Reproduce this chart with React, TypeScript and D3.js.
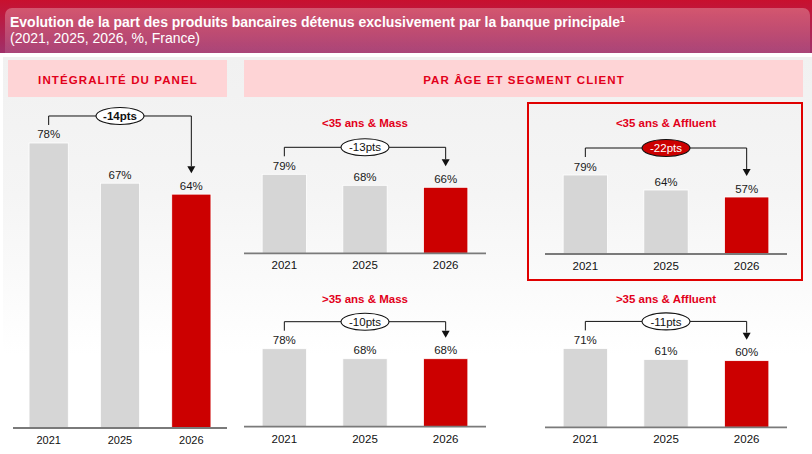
import * as React from "react";
import * as d3 from "d3";

const years = ["2021", "2025", "2026"];
const panelValues = [78, 67, 64];
const youngMassValues = [79, 68, 66];
const youngAffluentValues = [79, 64, 57];
const seniorMassValues = [78, 68, 68];
const seniorAffluentValues = [71, 61, 60];

const titleText = "Evolution de la part des produits bancaires détenus exclusivement par la banque principale";
const subtitleText = "(2021, 2025, 2026, %, France)";
const sectionLabels = ["INTÉGRALITÉ DU PANEL", "PAR ÂGE ET SEGMENT CLIENT"];
const segmentLabels = ["<35 ans & Mass", "<35 ans & Affluent", ">35 ans & Mass", ">35 ans & Affluent"];

const FONT = "'Liberation Sans', Arial, sans-serif";
const RED = "#cc0000";
const TITLE_RED = "#e2001a";
const GREY_BAR = "#d6d6d6";

type BlockProps = {
  values: number[];
  x0: number;
  x1: number;
  base: number;
  height: number;
  yMax: number;
  bold?: boolean;
  filledBadge?: boolean;
  title?: string;
  titleY?: number;
  yearSize?: number;
};

function BarBlock(p: BlockProps) {
  const x = d3.scalePoint<string>().domain(years).range([p.x0, p.x1]).padding(0.5);
  const y = d3.scaleLinear().domain([0, p.yMax]).range([p.base, p.base - p.height]);
  const bw = x.step() * 0.55;

  const first = p.values[0];
  const last = p.values[p.values.length - 1];
  const delta = last - first;
  const topY = y(d3.max(p.values) as number);
  const lineY = topY - 27;
  const startY = topY - 18;
  const tipY = y(last) - 21;
  const xa = x(years[0]) as number;
  const xb = x(years[years.length - 1]) as number;
  const xm = x(years[1]) as number;

  return (
    <g>
      {p.title && (
        <text x={(p.x0 + p.x1) / 2} y={p.titleY} textAnchor="middle" fontSize={11.5}
          fontWeight="bold" fill={TITLE_RED}>{p.title}</text>
      )}
      {p.values.map((v, i) => (
        <rect key={years[i]} x={(x(years[i]) as number) - bw / 2} y={y(v)} width={bw}
          height={p.base - y(v)} fill={i === p.values.length - 1 ? RED : GREY_BAR}
          stroke="#ffffff" strokeWidth={0.8} />
      ))}
      {p.values.map((v, i) => (
        <text key={"v" + years[i]} x={x(years[i])} y={y(v) - 4.5} textAnchor="middle"
          fontSize={11.5} fill="#1a1a1a">{v + "%"}</text>
      ))}
      <line x1={p.x0} x2={p.x1} y1={p.base} y2={p.base} stroke="#7a7a7a" strokeWidth={1.8} />
      {years.map(d => (
        <text key={"y" + d} x={x(d)} y={p.base + 16} textAnchor="middle"
          fontSize={p.yearSize || 11.5} fill="#111">{d}</text>
      ))}
      {/* bracket from first to last year */}
      <path d={`M${xa},${startY}V${lineY}H${xb}V${tipY - 7}`} fill="none" stroke="#111" strokeWidth={1} />
      <path d={`M${xb - 4},${tipY - 7}L${xb + 4},${tipY - 7}L${xb},${tipY}Z`} fill="#111" />
      <ellipse cx={xm} cy={lineY} rx={24} ry={8.5}
        fill={p.filledBadge ? RED : "#ffffff"} stroke="#111" strokeWidth={1.1} />
      <text x={xm} y={lineY} dy="0.36em" textAnchor="middle" fontSize={11.5}
        fontWeight={p.bold ? "bold" : "normal"} fill={p.filledBadge ? "#ffffff" : "#111"}>
        {delta + "pts"}
      </text>
    </g>
  );
}

export default function App() {
  return (
    <svg width={812} height={454} style={{ position: "absolute", left: 0, top: 0 }}
      fontFamily={FONT}>
      <defs>
        <linearGradient id="hdr" x1="0" y1="0" x2="0" y2="1">
          <stop offset="0" stopColor="#c8102e" />
          <stop offset="1" stopColor="#a0306a" />
        </linearGradient>
        <linearGradient id="gloss" x1="0" y1="0" x2="0" y2="1">
          <stop offset="0" stopColor="#ffffff" stopOpacity={0.28} />
          <stop offset="1" stopColor="#ffffff" stopOpacity={0.04} />
        </linearGradient>
        <linearGradient id="body" x1="0" y1="0" x2="0" y2="1">
          <stop offset="0" stopColor="#f1f1f1" />
          <stop offset="0.35" stopColor="#f5f5f5" />
          <stop offset="0.75" stopColor="#ffffff" />
        </linearGradient>
        <clipPath id="hdrClip">
          <rect x={0} y={0} width={812} height={53} />
        </clipPath>
      </defs>
      <rect x={0} y={0} width={812} height={454} fill="#ffffff" />

      {/* header */}
      <rect x={0} y={0} width={812} height={53} fill="url(#hdr)" />
      <g clipPath="url(#hdrClip)">
        <rect x={5} y={8} width={805} height={60} rx={7} fill="url(#gloss)" />
      </g>
      <text x={10} y={27} fontSize={14} fontWeight="bold" fill="#ffffff">
        {titleText}
        <tspan fontSize={9} dy={-5}>1</tspan>
      </text>
      <text x={10} y={43} fontSize={14} fill="#ffffff">{subtitleText}</text>

      {/* body */}
      <rect x={3} y={57} width={809} height={397} fill="url(#body)" />
      <rect x={8} y={60} width={219} height={37} fill="#fed4d6" />
      <rect x={244} y={60} width={559} height={37} fill="#fed4d6" />
      <text x={118} y={84} textAnchor="middle" fontSize={11.5} fontWeight="bold"
        letterSpacing={1.1} fill={TITLE_RED}>{sectionLabels[0]}</text>
      <text x={524} y={84} textAnchor="middle" fontSize={11.5} fontWeight="bold"
        letterSpacing={1.1} fill={TITLE_RED}>{sectionLabels[1]}</text>

      <rect x={528} y={103} width={274} height={177} fill="none" stroke="#e00000" strokeWidth={2} />

      <BarBlock values={panelValues} x0={13} x1={227} base={428} height={365.4} yMax={100}
        bold yearSize={11} />
      <BarBlock values={youngMassValues} x0={244} x1={486} base={253.3} height={100} yMax={100}
        title={segmentLabels[0]} titleY={127} />
      <BarBlock values={youngAffluentValues} x0={545} x1={787} base={254} height={100} yMax={100}
        title={segmentLabels[1]} titleY={127} filledBadge />
      <BarBlock values={seniorMassValues} x0={244} x1={486} base={426.7} height={100} yMax={100}
        title={segmentLabels[2]} titleY={303} />
      <BarBlock values={seniorAffluentValues} x0={545} x1={787} base={427.3} height={100} yMax={90}
        title={segmentLabels[3]} titleY={303} />
    </svg>
  );
}
